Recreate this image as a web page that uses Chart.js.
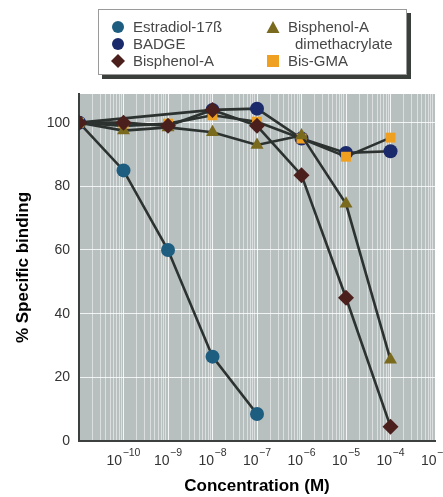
<!DOCTYPE html>
<html>
<head>
<meta charset="utf-8">
<script src="https://cdn.jsdelivr.net/npm/chart.js@4/dist/chart.umd.min.js"></script>
<style>
  html, body { margin: 0; padding: 0; background: #ffffff; }
  #wrap { position: relative; width: 443px; height: 497px; }
  #legend {
    position: absolute; left: 98px; top: 9px; width: 307px; height: 64px;
    background: #ffffff; border: 1px solid #9a9a9a;
    box-shadow: 4px 4px 0 #3a3f3c;
    font-family: "Liberation Sans", Arial, sans-serif; font-size: 15px; color: #474747;
  }
  .item { position: absolute; line-height: 17px; white-space: nowrap; }
  .item svg { position: absolute; left: -22px; top: 2px; }
</style>
</head>
<body>
<div id="wrap">
  <canvas id="c" width="443" height="497"></canvas>
  <div id="legend"></div>
</div>
<script>
// ---- data ----
const concentrations = [1e-11, 1e-10, 1e-9, 1e-8, 1e-7, 1e-6, 1e-5, 1e-4];
const estradiol   = [100, 85, 60, 26.5, 8.5, null, null, null];
const badge       = [100, null, null, 104, 104.4, 95, 90.5, 91];
const bisphenolA  = [100, 100, 99, 104, 99, 83.5, 45, 4.5];
const bpaDimeth   = [100, 97.5, 98.5, 97, 93, 96, 74.5, 25.5];
const bisGMA      = [100, 99, 99.7, 102.3, 100.3, 95, 89.3, 95.3];
const seriesNames = ["Estradiol-17ß", "BADGE", "Bisphenol-A", "Bisphenol-A dimethacrylate", "Bis-GMA"];
const yTicks = [0, 20, 40, 60, 80, 100];
const xMajorExponents = [-10, -9, -8, -7, -6, -5, -4, -3];

const LINE = '#2b322f';
const FONT = "'Liberation Sans', Arial, sans-serif";

function mk(label, data, color, style, radius, order) {
  return {
    label, data: concentrations.map((x, i) => ({x, y: data[i]})),
    borderColor: LINE, borderWidth: 2.6, backgroundColor: color,
    pointBackgroundColor: color, pointBorderColor: color, pointBorderWidth: 0,
    pointStyle: style, pointRadius: radius, pointHoverRadius: radius,
    spanGaps: true, tension: 0, order
  };
}
const datasets = [
  mk(seriesNames[0], estradiol, '#1d5d80', 'circle', 7, 4),
  mk(seriesNames[1], badge, '#1b2a6a', 'circle', 7, 3),
  mk(seriesNames[2], bisphenolA, '#4a1f1c', 'rectRot', 8, 0),
  mk(seriesNames[3], bpaDimeth, '#7a6a1e', 'triangle', 7.5, 1),
  mk(seriesNames[4], bisGMA, '#f0a020', 'rect', 7, 2),
];

const bgPlugin = {
  id: 'plotBg',
  beforeDraw(chart) {
    const {ctx, chartArea: a} = chart;
    ctx.save();
    ctx.fillStyle = '#b8bfbf';
    ctx.fillRect(a.left, a.top, a.right - a.left, a.bottom - a.top);
    ctx.restore();
  }
};

// draws the "10" with a raised exponent for each major x tick
const powerLabels = {
  id: 'powerLabels',
  afterDraw(chart) {
    const {ctx} = chart;
    const xs = chart.scales.x;
    ctx.save();
    ctx.fillStyle = '#333';
    ctx.textBaseline = 'alphabetic';
    ctx.textAlign = 'left';
    xMajorExponents.forEach(e => {
      const px = xs.getPixelForValue(Math.pow(10, e));
      const base = '10', ex = String(e).replace('-', '\u2212');
      ctx.font = `14px ${FONT}`;
      const wb = ctx.measureText(base).width;
      ctx.font = `10.5px ${FONT}`;
      const we = ctx.measureText(ex).width;
      const x0 = px - (wb + we + 0.5) / 2;
      ctx.font = `14px ${FONT}`;
      ctx.fillText(base, x0, xs.top + 24);
      ctx.font = `10.5px ${FONT}`;
      ctx.fillText(ex, x0 + wb + 0.5, xs.top + 15);
    });
    ctx.restore();
  }
};

new Chart(document.getElementById('c'), {
  type: 'line',
  data: { datasets },
  plugins: [bgPlugin, powerLabels],
  options: {
    responsive: false, animation: false,
    layout: { padding: { left: 0, right: 0, top: 94, bottom: 0 } },
    plugins: { legend: { display: false }, tooltip: { enabled: false } },
    scales: {
      x: {
        type: 'logarithmic', min: 1e-11, max: 1e-3,
        afterBuildTicks(axis) {
          const t = [];
          for (let e = -11; e < -3; e++) for (let k = 1; k <= 9; k++) t.push({ value: k * Math.pow(10, e) });
          t.push({ value: 1e-3 });
          axis.ticks = t;
        },
        afterFit(axis) { axis.height = 56; axis.paddingRight = 7; axis.paddingLeft = 0; },
        ticks: { autoSkip: false, maxRotation: 0, padding: 0, callback: () => '' },
        grid: {
          lineWidth: 1, drawTicks: false,
          color: (c) => {
            const v = c.tick && c.tick.value;
            if (!v) return 'rgba(255,255,255,0.5)';
            const e = Math.round(Math.log10(v));
            return Math.abs(v - Math.pow(10, e)) / v < 1e-6 ? 'rgba(255,255,255,0.85)' : 'rgba(255,255,255,0.5)';
          }
        },
        border: { display: true, color: '#3c403e', width: 2 },
        title: { display: true, text: 'Concentration (M)', color: '#000',
                 font: { family: FONT, size: 17, weight: 'bold' }, padding: { top: 1, bottom: 0 } }
      },
      y: {
        min: 0, max: 109,
        afterBuildTicks(axis) { axis.ticks = yTicks.map(v => ({ value: v })); },
        afterFit(axis) { axis.width = 79; },
        ticks: { padding: 9, color: '#333', font: { family: FONT, size: 14 } },
        grid: { color: 'rgba(255,255,255,0.8)', lineWidth: 1, drawTicks: false },
        border: { display: true, color: '#3c403e', width: 2 },
        title: { display: true, text: '% Specific binding', color: '#000',
                 font: { family: FONT, size: 17, weight: 'bold' }, padding: { top: 13, bottom: 0 } }
      }
    }
  }
});

// ---- HTML legend built from the datasets ----
function markerSvg(ds) {
  const c = ds.pointBackgroundColor;
  let shape;
  if (ds.pointStyle === 'circle') shape = `<circle cx="7" cy="7" r="6" fill="${c}"/>`;
  else if (ds.pointStyle === 'rectRot') shape = `<polygon points="7,0 14,7 7,14 0,7" fill="${c}"/>`;
  else if (ds.pointStyle === 'triangle') shape = `<polygon points="7,1 13.5,13 0.5,13" fill="${c}"/>`;
  else shape = `<rect x="1" y="1" width="12" height="12" fill="${c}"/>`;
  return `<svg width="14" height="14" viewBox="0 0 14 14">${shape}</svg>`;
}
const legendPos = [
  { left: 34, top: 8 }, { left: 34, top: 25 }, { left: 34, top: 42 },
  { left: 189, top: 8 }, { left: 189, top: 42 }
];
const legend = document.getElementById('legend');
datasets.forEach((ds, i) => {
  const d = document.createElement('div');
  d.className = 'item';
  d.style.left = legendPos[i].left + 'px';
  d.style.top = legendPos[i].top + 'px';
  let text = ds.label;
  if (i === 3) text = 'Bisphenol-A<br><span style="padding-left:7px">dimethacrylate</span>';
  d.innerHTML = markerSvg(ds) + text;
  legend.appendChild(d);
});
</script>
</body>
</html>
